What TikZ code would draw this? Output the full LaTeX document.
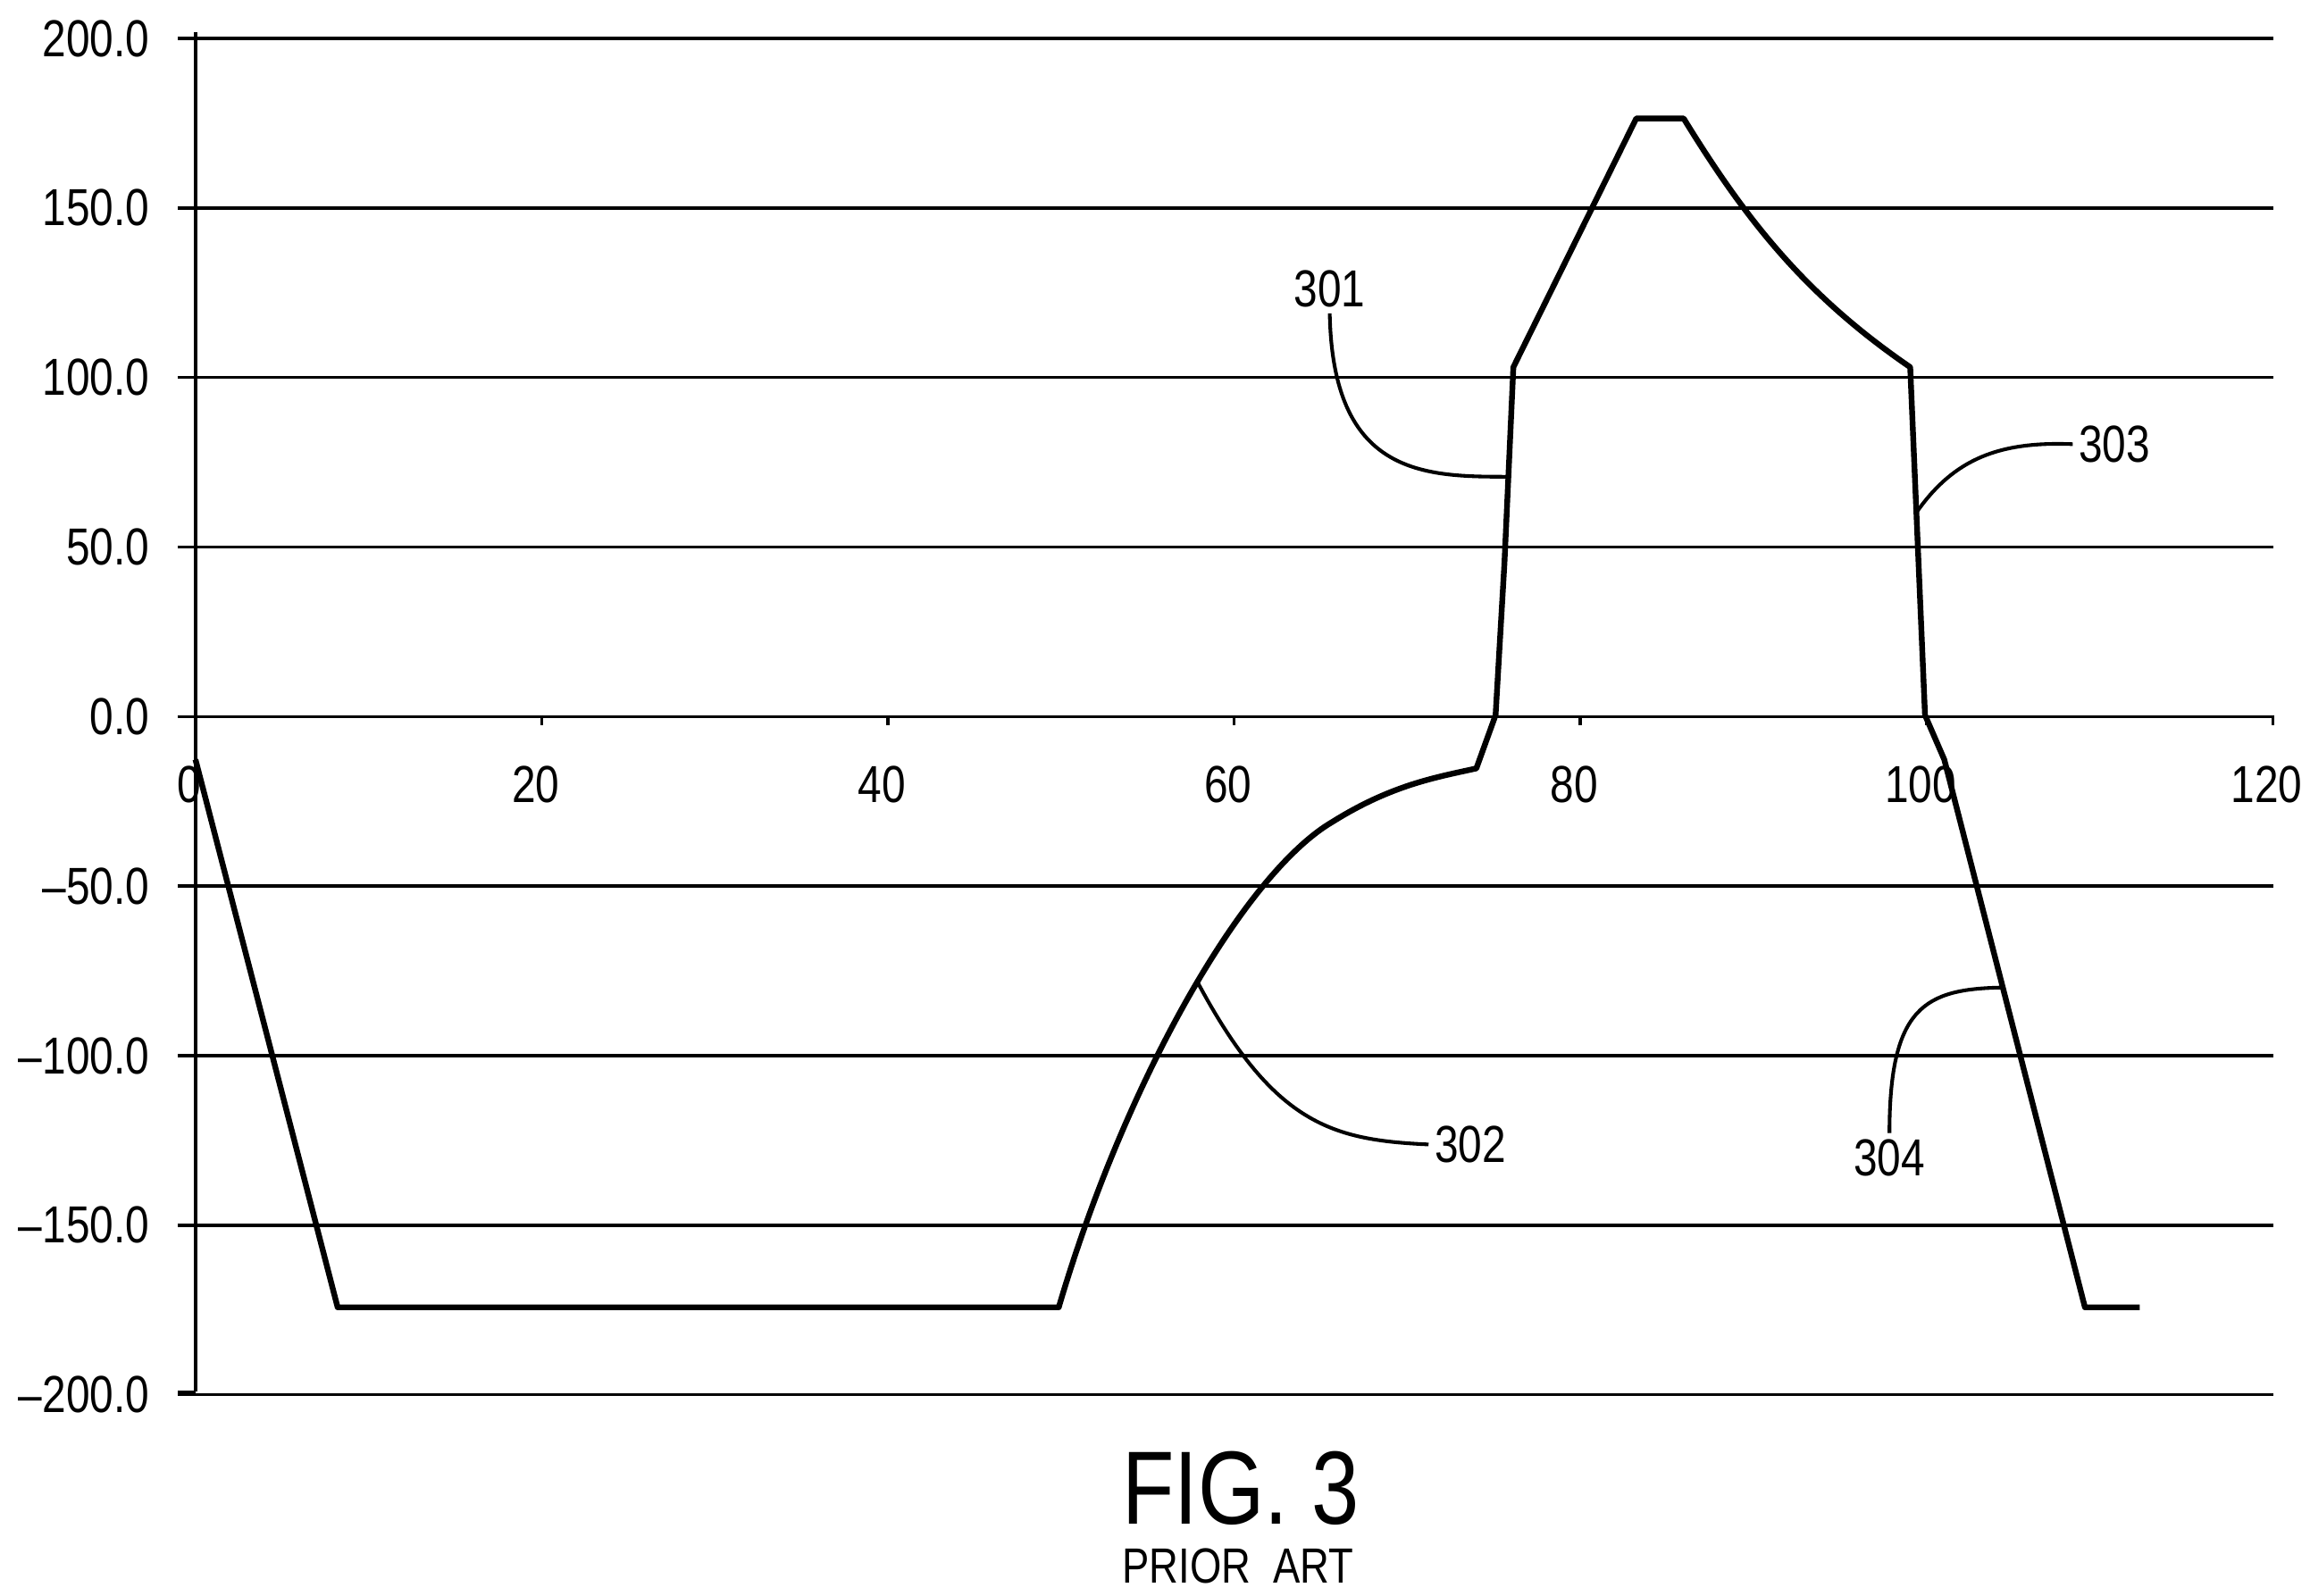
\documentclass[tikz,border=0pt]{standalone}
\usepackage{fontspec}
\setmainfont{Liberation Sans}[FakeStretch=0.82]
\tikzset{grid line/.style={line width=0.6pt},
  curve/.style={line width=1.1pt, line join=round},
  leader/.style={line width=0.7pt},
  ticklabel/.style={font=\fontsize{10}{12}\selectfont, inner sep=1pt}}
\begin{document}
\begin{tikzpicture}[x=0.01cm,y=-0.01cm]
\useasboundingbox (0,0) rectangle (1560,1078);
% grid and axes
\foreach \v/\lab in {0/200.0,1/150.0,2/100.0,3/50.0,4/0.0,5/{--50.0},6/{--100.0},7/{--150.0},8/{--200.0}} {
  \draw[grid line] (120,{26+114.5*\v}) -- (1535,{26+114.5*\v});
  \node[ticklabel, anchor=east] at (105,{26+114.5*\v}) {\lab};
}
\draw[grid line] (132,22) -- (132,940);
\draw[grid line] (120,940) -- (132,940);
\foreach \i in {0,...,6} {
  \draw[grid line] ({132+233.8*\i},483) -- ({132+233.8*\i},490);
  \node[ticklabel] at ({128+233.8*\i},530) {\the\numexpr 20*\i\relax};
}
% curve
\draw[curve] (132,513) -- (228,883) -- (715,883)
  .. controls (760,730) and (840,590) .. (900,555)
  .. controls (940,530) and (970,525) .. (997,519)
  -- (1010,483) -- (1016,380) -- (1022,248) -- (1105,80) -- (1137,80)
  .. controls (1180,150) and (1220,200) .. (1290,248)
  -- (1300,483) -- (1313,513) -- (1408,883) -- (1445,883);
% leaders
\node[ticklabel] (l301) at (898,195) {301};
\draw[leader] (l301.south) .. controls (900,320) and (960,322) .. (1017,322);
\node[ticklabel] (l302) at (993,773) {302};
\draw[leader] (808,662) .. controls (860,760) and (900,770) .. (l302.west);
\node[ticklabel] (l303) at (1428,300) {303};
\draw[leader] (1295,345) .. controls (1320,310) and (1350,298) .. (l303.west);
\node[ticklabel] (l304) at (1276,782) {304};
\draw[leader] (l304.north) .. controls (1276,680) and (1300,668) .. (1352,667);
% caption
\node[font=\fontsize{20}{24}\selectfont] (fig) at (838,1005) {FIG. 3};
\node[font=\fontsize{9.5}{11}\selectfont] (prior) at (836,1058) {PRIOR\ \ ART};
\end{tikzpicture}
\end{document}
